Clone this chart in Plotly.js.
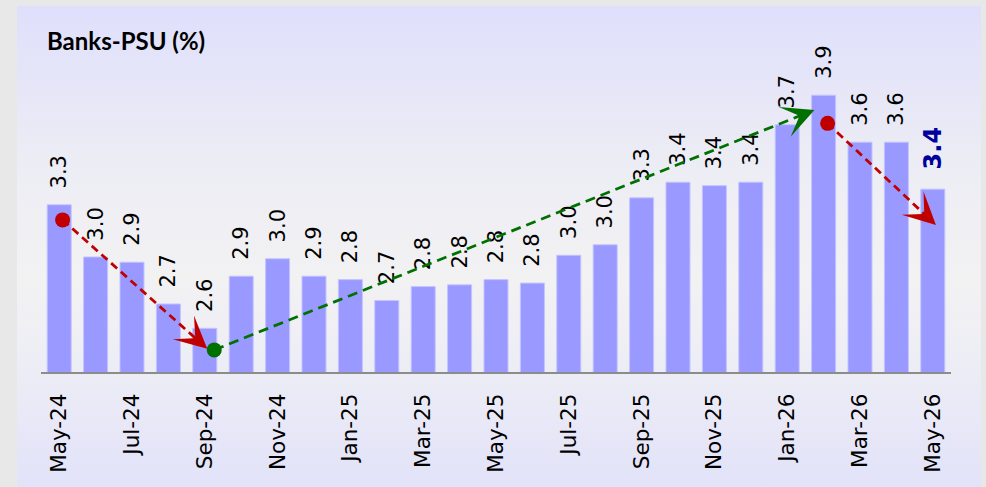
<!DOCTYPE html>
<html>
<head>
<meta charset="utf-8">
<script src="https://cdn.plot.ly/plotly-3.0.1.min.js"></script>
<style>
  html, body { margin: 0; padding: 0; background: #e8e8e8; }
  #frame {
    position: absolute; left: 17px; top: 6px; width: 964px; height: 495px;
    background: linear-gradient(to bottom, #dfdffc 0%, #ececf5 30%, #f2f2f3 55%, #ececf6 75%, #e1e1fa 100%);
  }
  #chart { position: absolute; left: 0; top: 0; width: 986px; height: 487px; }
</style>
</head>
<body>
<div id="frame"></div>
<div id="chart"></div>
<script>
// ---- data ----
const months = ["May-24","Jun-24","Jul-24","Aug-24","Sep-24","Oct-24","Nov-24","Dec-24",
                "Jan-25","Feb-25","Mar-25","Apr-25","May-25","Jun-25","Jul-25","Aug-25",
                "Sep-25","Oct-25","Nov-25","Dec-25","Jan-26","Feb-26","Mar-26","Apr-26","May-26"];
const values = [3.27, 2.97, 2.94, 2.70, 2.56, 2.86, 2.96, 2.86,
                2.84, 2.72, 2.80, 2.81, 2.84, 2.82, 2.98, 3.04,
                3.31, 3.40, 3.38, 3.40, 3.73, 3.90, 3.63, 3.63, 3.36];
const tickLabels = ["May-24","Jul-24","Sep-24","Nov-24","Jan-25","Mar-25","May-25",
                    "Jul-25","Sep-25","Nov-25","Jan-26","Mar-26","May-26"];
const chartTitle = "Banks-PSU (%)";

// trend arrows: [start index, start value, tip index, tip value]
const arrowRed1  = [0.093, 3.183, 4.067, 2.443];
const arrowGreen = [4.260, 2.436, 20.748, 3.815];
const arrowRed2  = [21.110, 3.738, 24.086, 3.154];

// ---- layout constants ----
const W = 986, H = 487;
const M = {l: 41, r: 35, t: 20, b: 115};
const yRange = [2.309, 4.332];
const xRange = [-0.5, 24.5];
const pxX = (W - M.l - M.r) / (xRange[1] - xRange[0]);
const pxY = (H - M.t - M.b) / (yRange[1] - yRange[0]);

const n = values.length;
const last = n - 1;
const txtColor = values.map((v, i) => i === last ? '#00009c' : '#000000');
const txtSize = values.map((v, i) => i === last ? 24 : 21);
const txtWeight = values.map((v, i) => i === last ? 'bold' : 'normal');

const bars = {
  type: 'bar', x: months, y: values,
  marker: {color: '#9999ff', line: {color: '#c4c4ff', width: 1}},
  texttemplate: '\u00a0\u00a0%{y:.1f}',
  textposition: 'outside', textangle: -90, constraintext: 'none', cliponaxis: false,
  textfont: {family: 'DejaVu Sans', size: txtSize, color: txtColor, weight: txtWeight},
  hoverinfo: 'x+y', showlegend: false
};

function arrowTrace(a, color, dash) {
  // end the dashed line a little before the tip, hidden under the arrowhead
  const dxp = (a[2] - a[0]) * pxX, dyp = (a[3] - a[1]) * pxY;
  const len = Math.hypot(dxp, dyp);
  const back = 14;
  const ex = a[2] - (dxp / len) * back / pxX;
  const ey = a[3] - (dyp / len) * back / pxY;
  return {
    type: 'scatter', mode: 'lines', xaxis: 'x2', yaxis: 'y',
    x: [a[0], ex], y: [a[1], ey],
    line: {color: color, width: 2.75, dash: dash},
    hoverinfo: 'skip', showlegend: false, cliponaxis: false
  };
}
function dotTrace(a, color) {
  return {
    type: 'scatter', mode: 'markers', xaxis: 'x2', yaxis: 'y',
    x: [a[0]], y: [a[1]],
    marker: {color: color, size: 15, symbol: 'circle', line: {width: 0}},
    hoverinfo: 'skip', showlegend: false, cliponaxis: false
  };
}
function headAnn(a, color) {
  const dxp = (a[2] - a[0]) * pxX, dyp = -(a[3] - a[1]) * pxY;
  const len = Math.hypot(dxp, dyp);
  return {
    xref: 'x2', yref: 'y', x: a[2], y: a[3], text: '',
    showarrow: true, arrowhead: 3, arrowsize: 2.05, arrowwidth: 2.6, arrowcolor: color,
    axref: 'pixel', ayref: 'pixel', ax: -dxp / len * 16, ay: -dyp / len * 16
  };
}

const red = '#c00000', green = '#007000';
const traces = [
  bars,
  arrowTrace(arrowRed1, red, '8px,5px'),
  arrowTrace(arrowGreen, green, '10px,6px'),
  arrowTrace(arrowRed2, red, '8px,5px'),
  dotTrace(arrowRed1, red),
  dotTrace(arrowGreen, green),
  dotTrace(arrowRed2, red)
];

const layout = {
  width: W, height: H, margin: M,
  paper_bgcolor: 'rgba(0,0,0,0)', plot_bgcolor: 'rgba(0,0,0,0)',
  bargap: 0.34,
  title: {
    text: '<b>' + chartTitle + '</b>',
    font: {family: 'Lato', size: 24, color: '#000000'},
    x: 47 / W, xref: 'container', xanchor: 'left',
    y: 1 - 33 / H, yref: 'container', yanchor: 'top'
  },
  xaxis: {
    type: 'category', range: xRange, fixedrange: true,
    showline: true, linecolor: '#8c8c8c', linewidth: 2,
    showgrid: false, zeroline: false, ticks: '',
    tickmode: 'array', tickvals: tickLabels, ticktext: tickLabels,
    tickangle: -90, ticklabelstandoff: 11,
    tickfont: {family: 'DejaVu Sans', size: 21.5, color: '#000000'}
  },
  xaxis2: {
    overlaying: 'x', range: xRange, visible: false, fixedrange: true
  },
  yaxis: {
    range: yRange, visible: false, showgrid: false, zeroline: false, fixedrange: true
  },
  annotations: [
    headAnn(arrowRed1, red),
    headAnn(arrowGreen, green),
    headAnn(arrowRed2, red)
  ],
  showlegend: false
};

Plotly.newPlot('chart', traces, layout, {displayModeBar: false, staticPlot: true});
</script>
</body>
</html>
